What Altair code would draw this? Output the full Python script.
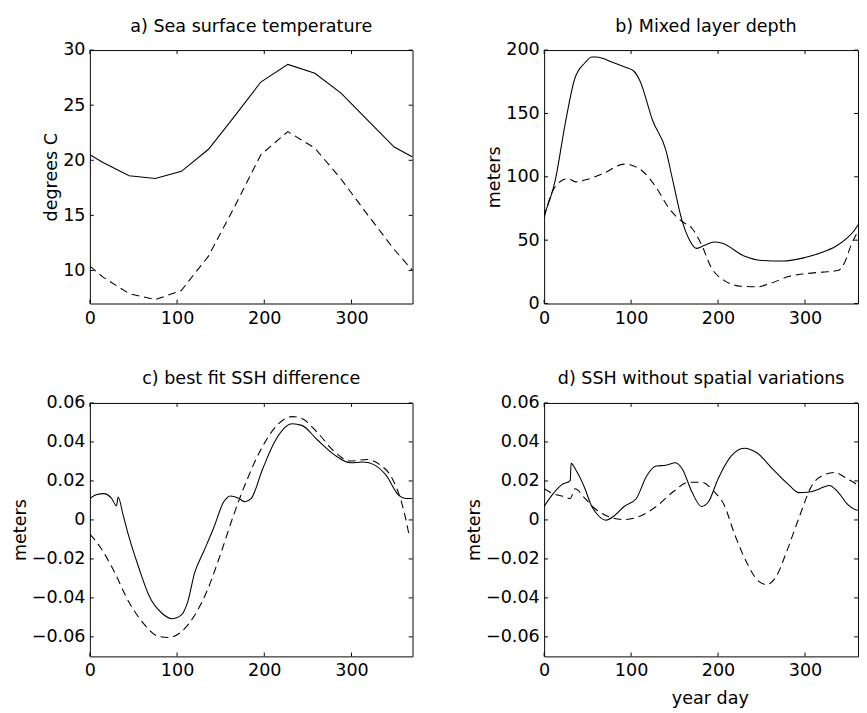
import altair as alt
import pandas as pd

FONT = "DejaVu Sans"
FS = 18
H = 260
W_LEFT = 331
W_RIGHT = 322
TICK = 4

x_ticks = [0, 100, 200, 300]

# a) Sea surface temperature
sst_days = [0, 15, 45, 75, 105, 136, 166, 196, 227, 258, 288, 319, 349, 370]
sst_solid = [20.5, 19.8, 18.6, 18.35, 19.0, 21.0, 24.0, 27.1, 28.7, 27.9, 26.1, 23.6, 21.2, 20.3]
sst_dashed = [10.4, 9.4, 7.9, 7.35, 8.2, 11.3, 15.8, 20.5, 22.6, 21.1, 18.3, 15.0, 11.9, 10.0]
sst_ticks = [10, 15, 20, 25, 30]

# b) Mixed layer depth
mld_days_solid = [0, 13, 24, 35, 47, 55, 60, 80, 95, 103, 110, 125, 140, 148, 159, 166, 175,
                  183, 196, 205, 230, 250, 275, 300, 320, 335, 349, 356, 361, 370]
mld_solid = [70, 98, 141, 177, 190, 194.5, 194.5, 190, 186, 183.5, 176, 144, 121, 97, 64.5, 51.7, 43.5,
             45.5, 48.6, 47.5, 37.5, 34, 33.5, 36.3, 40.5, 45, 52, 57, 62, 72]
mld_days_dashed = [0, 9, 19, 28, 36, 50, 69, 92, 103, 114, 129, 144, 159, 170, 181, 192, 207,
                   226, 245, 260, 282, 300, 320, 338, 346, 353, 361, 370]
mld_dashed = [68, 87.5, 96.5, 98.5, 96, 98, 103, 110, 108.6, 104, 91.4, 74.8, 64.5, 59.4, 46.5, 28.6, 18.3,
              13.7, 13.2, 15.8, 21.5, 23.5, 24.8, 26, 33, 46, 57, 68]
mld_ticks = [0, 50, 100, 150, 200]

# c) best fit SSH difference
c_days_solid = [0, 8, 16, 25, 30.5, 32.4, 38, 45, 57, 68, 83, 94, 105, 112, 120, 131, 142, 153.5,
                161, 170, 178, 185, 198, 213, 232, 243, 261, 280, 299, 313, 325, 340, 354, 362, 370]
c_solid = [0.011, 0.013, 0.0135, 0.011, 0.0072, 0.0118, 0.0027, -0.009, -0.0257, -0.039, -0.048,
           -0.0507, -0.0487, -0.0423, -0.0273, -0.0157, -0.004, 0.0093, 0.0123, 0.0113, 0.0093, 0.011,
           0.026, 0.041, 0.0493, 0.0485, 0.041, 0.0335, 0.0293, 0.0297, 0.0285, 0.0227, 0.0127, 0.011, 0.011]
c_days_dashed = [0, 12, 27, 45, 60, 79, 90, 105, 120, 135, 150, 165, 179, 194, 213, 232, 243, 262,
                 280, 299, 317, 332, 347, 356, 362, 366.5]
c_dashed = [-0.0073, -0.014, -0.0257, -0.0423, -0.0523, -0.0598, -0.0603, -0.0573, -0.049, -0.0357,
            -0.0173, 0.0027, 0.0193, 0.0343, 0.0477, 0.053, 0.052, 0.0443, 0.0352, 0.0302, 0.031,
            0.0285, 0.021, 0.011, 0.001, -0.009]
ssh_ticks = [-0.06, -0.04, -0.02, 0, 0.02, 0.04, 0.06]

# d) SSH without spatial variations
d_days_solid = [0, 9, 20, 30, 31, 37, 47, 54, 62, 71, 80, 92, 106, 118, 129, 140, 151, 159, 170,
                181, 189, 200, 215, 230, 245, 263, 282, 293, 305, 317, 328, 338, 349, 361, 370]
d_solid = [0.0069, 0.0127, 0.018, 0.0202, 0.029, 0.0252, 0.016, 0.0077, 0.0024, -0.0001, 0.0019,
           0.0069, 0.011, 0.0227, 0.0277, 0.028, 0.0293, 0.026, 0.0143, 0.0069, 0.0093, 0.021, 0.0327,
           0.0368, 0.0343, 0.026, 0.0177, 0.014, 0.0143, 0.016, 0.0177, 0.0143, 0.008, 0.005, 0.006]
d_days_dashed = [0, 10, 24, 30, 35.5, 47, 58, 73, 92, 110, 129, 148, 166, 181, 196, 207, 219, 233.5,
                 245, 256, 267, 278, 293, 308, 320, 334, 349, 361, 370]
d_dashed = [0.016, 0.0135, 0.0118, 0.011, 0.016, 0.011, 0.006, 0.0019, 0.0002, 0.0019, 0.0069, 0.0143,
            0.0193, 0.0193, 0.0143, 0.0077, -0.0073, -0.0223, -0.0307, -0.0332, -0.029, -0.0173, 0.001,
            0.0177, 0.0227, 0.0243, 0.021, 0.0177, 0.014]

ZERO_FMT = "datum.value == 0 ? '0' : format(datum.value, '.2f')"


def panel(title, s_days, s_vals, d_days, d_vals, ydom, yticks, xmax, width, ytitle,
          xtitle=None, zero_fmt=False, title_dx=0, interp="linear"):
    xs = alt.Scale(domain=[0, xmax], nice=False, zero=False)
    ys = alt.Scale(domain=ydom, nice=False, zero=False)
    xkw = dict(values=x_ticks, ticks=False, domain=False, grid=False, labelPadding=6,
               labelFlush=False, labelOverlap=False)
    if xtitle:
        xkw.update(title=xtitle, titleX=170, titlePadding=10)
    else:
        xkw["title"] = ""
    ykw = dict(values=yticks, ticks=False, domain=False, grid=False, labelPadding=5,
               labelOverlap=False, title=ytitle, titlePadding=2)
    if zero_fmt:
        ykw["labelExpr"] = ZERO_FMT
    solid_df = pd.DataFrame({"day": s_days, "v": s_vals})
    dash_df = pd.DataFrame({"day": d_days, "v": d_vals})
    xx = alt.X("day:Q", scale=xs, title=xkw["title"])
    yy = alt.Y("v:Q", scale=ys, title=ytitle)
    solid = alt.Chart(solid_df).mark_line(color="black", strokeWidth=1.1, clip=True,
                                          interpolate=interp).encode(
        x=alt.X("day:Q", scale=xs, axis=alt.Axis(**xkw)),
        y=alt.Y("v:Q", scale=ys, axis=alt.Axis(**ykw)),
    )
    dashed = alt.Chart(dash_df).mark_line(color="black", strokeWidth=1.1, strokeDash=[8, 5],
                                           clip=True, interpolate=interp).encode(x=xx, y=yy)
    ytdf = pd.DataFrame({"v": yticks})
    xtdf = pd.DataFrame({"day": x_ticks})
    rl = dict(color="black", strokeWidth=1)
    lt = alt.Chart(ytdf).mark_rule(**rl).encode(y=yy, x=alt.value(0), x2=alt.value(TICK))
    rt = alt.Chart(ytdf).mark_rule(**rl).encode(y=yy, x=alt.value(width - TICK), x2=alt.value(width))
    bt = alt.Chart(xtdf).mark_rule(**rl).encode(x=xx, y=alt.value(H - TICK), y2=alt.value(H))
    tt = alt.Chart(xtdf).mark_rule(**rl).encode(x=xx, y=alt.value(0), y2=alt.value(TICK))
    tkw = dict(text=title, frame="group", anchor="middle", offset=6)
    if title_dx:
        tkw["dx"] = title_dx
    return alt.layer(solid, dashed, lt, rt, bt, tt).properties(
        width=width, height=H, title=alt.TitleParams(**tkw)
    )


pa = panel("a) Sea surface temperature", sst_days, sst_solid, sst_days, sst_dashed,
           [7, 30], sst_ticks, 370, W_LEFT, "degrees C")
pb = panel("b) Mixed layer depth", mld_days_solid, mld_solid, mld_days_dashed, mld_dashed,
           [0, 200], mld_ticks, 361, W_RIGHT, "meters", title_dx=5, interp="monotone")
pc = panel("c) best fit SSH difference", c_days_solid, c_solid, c_days_dashed, c_dashed,
           [-0.07, 0.06], ssh_ticks, 370, W_LEFT, "meters", zero_fmt=True, interp="monotone")
pd_ = panel("d) SSH without spatial variations", d_days_solid, d_solid, d_days_dashed, d_dashed,
            [-0.07, 0.06], ssh_ticks, 361, W_RIGHT, "meters", xtitle="year day", zero_fmt=True,
            interp="monotone")

chart = alt.concat(pa, pb, pc, pd_, columns=2, spacing={"row": 43, "column": 53}).properties(
    padding={"left": 3, "top": 0, "right": 0, "bottom": 0}
).configure_view(stroke="black", strokeWidth=1).configure_axis(
    labelFont=FONT, labelFontSize=FS, labelColor="black",
    titleFont=FONT, titleFontSize=FS, titleFontWeight="normal", titleColor="black",
).configure_title(font=FONT, fontSize=FS, fontWeight="normal", color="black")

chart.save("out.html", embed_options={"renderer": "svg", "actions": False})
